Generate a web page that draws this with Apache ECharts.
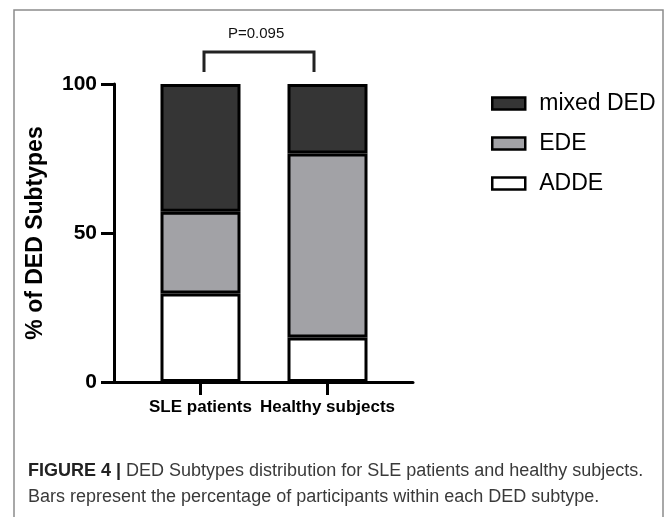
<!DOCTYPE html>
<html>
<head>
<meta charset="utf-8">
<script src="https://cdn.jsdelivr.net/npm/echarts@6/dist/echarts.min.js"></script>
<style>
html,body{margin:0;padding:0;background:#fff;}
#chart{width:669px;height:517px;}
</style>
</head>
<body>
<div id="chart"></div>
<script>
var categories = ['SLE patients', 'Healthy subjects'];
var seriesNames = ['ADDE', 'EDE', 'mixed DED'];
var addeValues = [29.7, 14.9];
var edeValues = [27.4, 61.8];
var mixedValues = [42.9, 23.3];
var yTicks = [0, 50, 100];
var pLabel = 'P=0.095';
var yTitle = '% of DED Subtypes';
var captionBold = 'FIGURE 4 |';
var captionLine1 = ' DED Subtypes distribution for SLE patients and healthy subjects.';
var captionLine2 = 'Bars represent the percentage of participants within each DED subtype.';

var colors = {ADDE: '#ffffff', EDE: '#a2a2a6', 'mixed DED': '#353535'};
var valuesByName = {ADDE: addeValues, EDE: edeValues, 'mixed DED': mixedValues};

var chart = echarts.init(document.getElementById('chart'));
var FONT = '"Liberation Sans", Arial, Helvetica, sans-serif';

var option = {
  backgroundColor: '#ffffff',
  animation: false,
  textStyle: {fontFamily: FONT},
  grid: [
    {left: 114, right: 256, top: 84, bottom: 135},
    {left: 137, width: 254, top: 84, bottom: 135}
  ],
  xAxis: [
    {
      type: 'value', gridIndex: 0, min: 0, max: 1,
      axisLine: {show: true, lineStyle: {color: '#000', width: 3}},
      axisTick: {show: false}, axisLabel: {show: false}, splitLine: {show: false}
    },
    {
      type: 'category', gridIndex: 1, data: categories,
      axisLine: {show: false},
      axisTick: {show: true, interval: 0, alignWithLabel: true, length: 13, lineStyle: {color: '#000', width: 3}},
      axisLabel: {show: true, interval: 0, hideOverlap: false, margin: 17, color: '#000', fontWeight: 'bold', fontSize: 17, fontFamily: FONT},
      splitLine: {show: false}
    }
  ],
  yAxis: [
    {
      type: 'value', gridIndex: 0, min: yTicks[0], max: yTicks[yTicks.length - 1], interval: 50,
      name: yTitle, nameLocation: 'middle', nameGap: 67,
      nameTextStyle: {color: '#000', fontWeight: 'bold', fontSize: 23, fontFamily: FONT},
      axisLine: {show: true, lineStyle: {color: '#000', width: 3}},
      axisTick: {show: true, length: 13, lineStyle: {color: '#000', width: 3}},
      axisLabel: {show: true, margin: 17, color: '#000', fontWeight: 'bold', fontSize: 21, fontFamily: FONT},
      splitLine: {show: false}
    },
    {
      type: 'value', gridIndex: 1, min: 0, max: 100, show: false
    }
  ],
  legend: {
    orient: 'vertical',
    left: 486, top: 87,
    data: ['mixed DED', 'EDE', 'ADDE'],
    icon: 'rect',
    itemWidth: 33, itemHeight: 12, itemGap: 17,
    itemStyle: {borderColor: '#000', borderWidth: 2.5},
    textStyle: {color: '#000', fontSize: 23, lineHeight: 23, fontFamily: FONT, padding: [0, 0, 0, 9]}
  },
  series: seriesNames.map(function (name) {
    return {
      name: name, type: 'bar', stack: 'total',
      xAxisIndex: 1, yAxisIndex: 1,
      barWidth: 80,
      data: valuesByName[name],
      itemStyle: {color: colors[name], borderColor: '#000', borderWidth: 3}
    };
  }),
  graphic: [
    {
      type: 'rect', silent: true, z: -1,
      shape: {x: 14, y: 10, width: 649, height: 520},
      style: {fill: 'none', stroke: '#8c8c8c', lineWidth: 1.5}
    },
    {
      type: 'text', left: 228, top: 26,
      style: {text: pLabel, fill: '#111', font: '15px ' + FONT}
    },
    {
      type: 'polyline',
      shape: {points: [[204, 72], [204, 52], [314, 52], [314, 72]]},
      style: {stroke: '#222', lineWidth: 3, fill: 'none'}
    },
    {
      type: 'text', left: 28, top: 462,
      style: {
        text: '{b|' + captionBold + '}{r|' + captionLine1 + '}\n{r|' + captionLine2 + '}',
        rich: {
          b: {font: 'bold 18px ' + FONT, fill: '#222', lineHeight: 26},
          r: {font: '18px ' + FONT, fill: '#3a3a3a', lineHeight: 26}
        }
      }
    }
  ]
};
chart.setOption(option);
</script>
</body>
</html>
